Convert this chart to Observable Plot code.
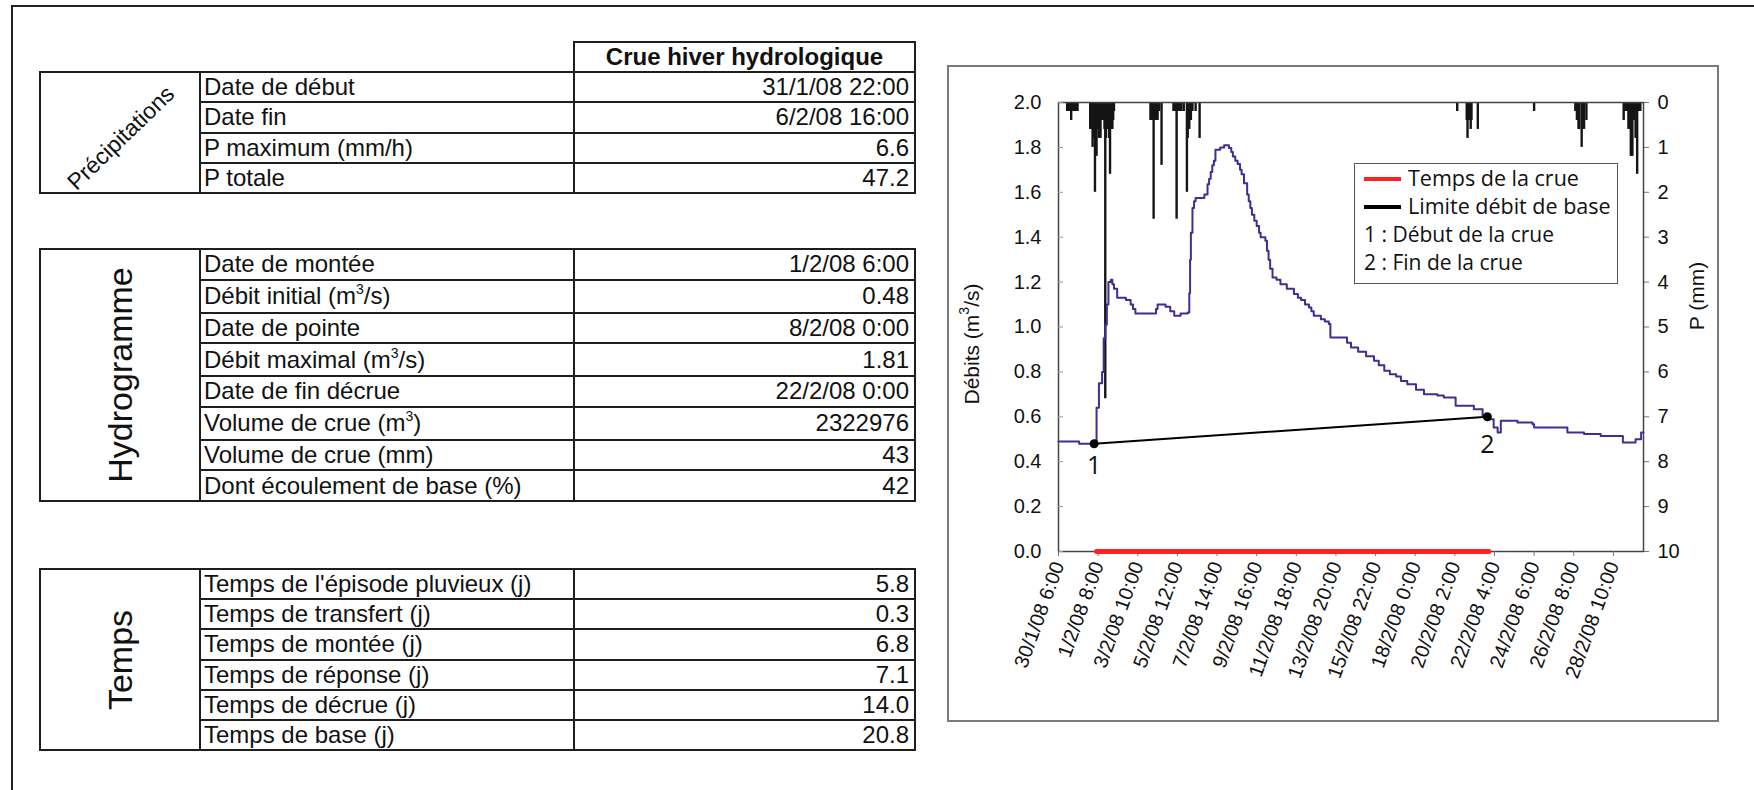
<!DOCTYPE html>
<html><head><meta charset="utf-8">
<script src="https://cdn.jsdelivr.net/npm/d3@7"></script>
<script src="https://cdn.jsdelivr.net/npm/@observablehq/plot@0.6"></script>
<style>
html,body{margin:0;padding:0;background:#fff;}
body{width:1754px;height:790px;position:relative;overflow:hidden;font-family:"Liberation Sans",Arial,sans-serif;color:#111;}
#frame{position:absolute;left:11px;top:5px;width:1760px;height:800px;border-left:2px solid #222;border-top:2px solid #222;}
table.t{position:absolute;left:39px;border-collapse:collapse;table-layout:fixed;width:875px;}
table.t td{border:2px solid #1e1e1e;padding:0;font-size:24px;line-height:24px;white-space:nowrap;overflow:visible;}
table.t td.lab{padding-left:3px;}
table.t td.val{text-align:right;padding-right:5px;}
table.t td.blank{border:none;}
table.t td.hdr{font-weight:bold;text-align:center;}
table.t td.grp{position:relative;}
table.t td.grp div{position:absolute;left:50%;top:50%;white-space:nowrap;line-height:1;}
sup{font-size:14px;line-height:0;vertical-align:10px;}
#chartbox{position:absolute;left:947px;top:65px;width:772px;height:657px;border:2px solid #7a7a7a;box-sizing:border-box;}
.plotlayer{position:absolute;left:948px;top:66px;}
#legend{position:absolute;left:1354px;top:163px;width:264px;height:121px;border:1.5px solid #555;box-sizing:border-box;font-family:"Open Sans",sans-serif;font-size:21.5px;color:#111;background:#fff;}
#legend .sw{position:absolute;left:9px;width:37px;height:4px;}
#legend .tx{position:absolute;line-height:26px;white-space:nowrap;}
.atitle{position:absolute;transform:translate(-50%,-50%) rotate(-90deg);white-space:nowrap;font-family:"Liberation Sans",Arial,sans-serif;font-size:21px;}
</style>
</head>
<body>
<div id="frame"></div>
<div id="chartbox"></div>
<script>
// ---------------- Table data ----------------
const columnHeader = "Crue hiver hydrologique";
const groupNames = ["Précipitations", "Hydrogramme", "Temps"];
const precipLabels = ["Date de début", "Date fin", "P maximum (mm/h)", "P totale"];
const precipValues = ["31/1/08 22:00", "6/2/08 16:00", "6.6", "47.2"];
const hydroLabels = ["Date de montée", "Débit initial (m<sup>3</sup>/s)", "Date de pointe", "Débit maximal (m<sup>3</sup>/s)", "Date de fin décrue", "Volume de crue (m<sup>3</sup>)", "Volume de crue (mm)", "Dont écoulement de base (%)"];
const hydroValues = ["1/2/08 6:00", "0.48", "8/2/08 0:00", "1.81", "22/2/08 0:00", "2322976", "43", "42"];
const tempsLabels = ["Temps de l'épisode pluvieux (j)", "Temps de transfert (j)", "Temps de montée (j)", "Temps de réponse (j)", "Temps de décrue (j)", "Temps de base (j)"];
const tempsValues = ["5.8", "0.3", "6.8", "7.1", "14.0", "20.8"];

// ---------------- Chart data ----------------
// Débit (m3/s), hourly-step hydrograph
const flowSeries = [
  ["2008-01-30T06:00",0.49],["2008-01-31T08:00",0.48],["2008-02-01T06:00",0.64],["2008-02-01T09:00",0.75],
  ["2008-02-01T13:00",0.80],["2008-02-01T15:00",0.95],["2008-02-01T17:00",1.01],["2008-02-01T19:00",1.10],
  ["2008-02-01T21:00",1.20],["2008-02-02T00:00",1.21],["2008-02-02T02:00",1.19],["2008-02-02T04:00",1.17],
  ["2008-02-02T08:00",1.13],["2008-02-02T19:00",1.12],["2008-02-03T01:00",1.10],["2008-02-03T04:00",1.08],
  ["2008-02-03T07:00",1.06],["2008-02-04T09:00",1.08],["2008-02-04T11:00",1.10],["2008-02-04T16:00",1.10],
  ["2008-02-04T21:00",1.09],["2008-02-05T03:00",1.07],["2008-02-05T08:00",1.05],["2008-02-05T16:00",1.06],
  ["2008-02-06T01:00",1.065],["2008-02-06T03:00",1.15],["2008-02-06T04:00",1.30],["2008-02-06T05:00",1.42],
  ["2008-02-06T07:00",1.53],["2008-02-06T09:00",1.56],["2008-02-06T11:00",1.575],["2008-02-06T22:00",1.59],
  ["2008-02-07T02:00",1.636],["2008-02-07T04:00",1.66],["2008-02-07T06:00",1.69],["2008-02-07T08:00",1.72],
  ["2008-02-07T10:00",1.74],["2008-02-07T12:00",1.79],["2008-02-07T18:00",1.80],["2008-02-07T23:00",1.81],
  ["2008-02-08T05:00",1.797],["2008-02-08T08:00",1.78],["2008-02-08T10:00",1.76],["2008-02-08T13:00",1.74],
  ["2008-02-08T16:00",1.726],["2008-02-08T19:00",1.70],["2008-02-08T21:00",1.68],["2008-02-09T00:00",1.64],
  ["2008-02-09T04:00",1.59],["2008-02-09T06:00",1.56],["2008-02-09T08:00",1.53],["2008-02-09T10:00",1.50],
  ["2008-02-09T13:00",1.473],["2008-02-09T16:00",1.45],["2008-02-09T19:00",1.42],["2008-02-09T21:00",1.40],
  ["2008-02-10T03:00",1.384],["2008-02-10T05:00",1.34],["2008-02-10T07:00",1.30],["2008-02-10T09:00",1.26],
  ["2008-02-10T12:00",1.22],["2008-02-10T17:00",1.21],["2008-02-10T22:00",1.19],["2008-02-11T06:00",1.17],
  ["2008-02-11T15:00",1.147],["2008-02-11T20:00",1.13],["2008-02-12T00:00",1.12],["2008-02-12T05:00",1.10],
  ["2008-02-12T10:00",1.087],["2008-02-12T13:00",1.07],["2008-02-12T16:00",1.05],["2008-02-13T01:00",1.035],
  ["2008-02-13T06:00",1.025],["2008-02-13T11:00",1.013],["2008-02-13T13:00",0.953],["2008-02-14T06:00",0.953],
  ["2008-02-14T10:00",0.93],["2008-02-14T15:00",0.909],["2008-02-15T00:00",0.89],["2008-02-15T10:00",0.87],
  ["2008-02-15T20:00",0.85],["2008-02-16T02:00",0.83],["2008-02-16T09:00",0.805],["2008-02-16T16:00",0.79],
  ["2008-02-17T00:00",0.78],["2008-02-17T06:00",0.76],["2008-02-17T14:00",0.745],["2008-02-18T01:00",0.72],
  ["2008-02-18T11:00",0.70],["2008-02-19T04:00",0.695],["2008-02-19T12:00",0.686],["2008-02-20T03:00",0.649],
  ["2008-02-21T02:00",0.634],["2008-02-21T13:00",0.605],["2008-02-21T21:00",0.589],["2008-02-22T03:00",0.552],
  ["2008-02-22T08:00",0.53],["2008-02-22T12:00",0.582],["2008-02-23T09:00",0.575],["2008-02-24T04:00",0.567],
  ["2008-02-24T06:00",0.552],["2008-02-26T00:00",0.53],["2008-02-26T21:00",0.523],["2008-02-27T18:00",0.515],
  ["2008-02-28T22:00",0.486],["2008-02-29T14:00",0.50],["2008-02-29T21:00",0.53],["2008-03-01T00:00",0.53]
];
// Pluie horaire (mm)
const rainSeries = [
  ["2008-01-30T17:00",0.2],["2008-01-30T18:00",0.2],["2008-01-30T19:00",0.2],["2008-01-30T20:00",0.2],
  ["2008-01-30T21:00",0.2],["2008-01-30T22:00",0.4],["2008-01-30T23:00",0.2],["2008-01-31T00:00",0.2],
  ["2008-01-31T01:00",0.2],["2008-01-31T02:00",0.2],["2008-01-31T03:00",0.2],["2008-01-31T04:00",0.2],
  ["2008-01-31T05:00",0.2],["2008-01-31T06:00",0.2],
  ["2008-01-31T22:00",0.6],["2008-01-31T23:00",0.6],["2008-02-01T00:00",0.6],["2008-02-01T01:00",1.0],
  ["2008-02-01T02:00",0.6],["2008-02-01T03:00",0.8],["2008-02-01T04:00",2.0],["2008-02-01T05:00",0.6],
  ["2008-02-01T06:00",1.2],["2008-02-01T07:00",0.6],["2008-02-01T08:00",0.6],["2008-02-01T09:00",0.8],
  ["2008-02-01T10:00",0.6],["2008-02-01T11:00",0.8],["2008-02-01T12:00",0.4],["2008-02-01T13:00",0.4],
  ["2008-02-01T14:00",0.2],["2008-02-01T15:00",0.4],["2008-02-01T16:00",0.6],["2008-02-01T17:00",6.6],
  ["2008-02-01T18:00",0.8],["2008-02-01T19:00",0.6],["2008-02-01T20:00",0.6],["2008-02-01T21:00",0.6],
  ["2008-02-01T22:00",0.8],["2008-02-01T23:00",1.6],["2008-02-02T00:00",0.6],["2008-02-02T01:00",0.6],
  ["2008-02-02T02:00",0.6],["2008-02-02T03:00",0.4],["2008-02-02T04:00",0.2],
  ["2008-02-04T02:00",0.4],["2008-02-04T04:00",0.4],["2008-02-04T06:00",2.6],["2008-02-04T07:00",0.4],
  ["2008-02-04T09:00",0.4],["2008-02-04T11:00",0.4],["2008-02-04T13:00",0.2],["2008-02-04T16:00",1.4],
  ["2008-02-05T07:00",0.2],["2008-02-05T09:00",0.2],["2008-02-05T11:00",2.6],["2008-02-05T13:00",0.2],
  ["2008-02-05T15:00",0.2],["2008-02-05T17:00",0.2],["2008-02-05T20:00",0.2],["2008-02-06T00:00",2.0],
  ["2008-02-06T01:00",0.8],["2008-02-06T03:00",0.6],["2008-02-06T05:00",0.4],["2008-02-06T07:00",0.2],
  ["2008-02-06T11:00",0.2],["2008-02-06T16:00",0.8],
  ["2008-02-20T05:00",0.2],["2008-02-20T17:00",0.4],["2008-02-20T18:00",0.8],["2008-02-20T19:00",0.4],
  ["2008-02-20T20:00",0.4],["2008-02-20T22:00",0.6],["2008-02-20T23:00",0.4],["2008-02-21T07:00",0.6],
  ["2008-02-24T06:00",0.2],
  ["2008-02-26T10:00",0.2],["2008-02-26T12:00",0.4],["2008-02-26T14:00",0.6],["2008-02-26T15:00",0.6],
  ["2008-02-26T18:00",1.0],["2008-02-26T19:00",0.6],["2008-02-26T21:00",0.6],["2008-02-27T00:00",0.4],
  ["2008-02-28T23:00",0.4],["2008-02-29T01:00",0.2],["2008-02-29T03:00",0.2],["2008-02-29T05:00",0.6],
  ["2008-02-29T06:00",0.6],["2008-02-29T08:00",1.2],["2008-02-29T10:00",1.2],["2008-02-29T12:00",0.4],
  ["2008-02-29T14:00",0.8],["2008-02-29T16:00",1.6],["2008-02-29T18:00",0.2],["2008-02-29T20:00",0.2]
];
const xDomain = ["2008-01-30T06:00", "2008-03-01T00:00"];
const xTickTimes = ["2008-01-30T06:00","2008-02-01T08:00","2008-02-03T10:00","2008-02-05T12:00","2008-02-07T14:00",
  "2008-02-09T16:00","2008-02-11T18:00","2008-02-13T20:00","2008-02-15T22:00","2008-02-18T00:00",
  "2008-02-20T02:00","2008-02-22T04:00","2008-02-24T06:00","2008-02-26T08:00","2008-02-28T10:00"];
const xTickLabels = ["30/1/08 6:00","1/2/08 8:00","3/2/08 10:00","5/2/08 12:00","7/2/08 14:00",
  "9/2/08 16:00","11/2/08 18:00","13/2/08 20:00","15/2/08 22:00","18/2/08 0:00",
  "20/2/08 2:00","22/2/08 4:00","24/2/08 6:00","26/2/08 8:00","28/2/08 10:00"];
const qTicks = [0, 0.2, 0.4, 0.6, 0.8, 1.0, 1.2, 1.4, 1.6, 1.8, 2.0];
const pTicks = [0, 1, 2, 3, 4, 5, 6, 7, 8, 9, 10];
const crueTimes = ["2008-02-01T06:00", "2008-02-21T21:00"];   // Temps de la crue
const basePointTimes = ["2008-02-01T03:00", "2008-02-21T19:00"]; // 1 : début, 2 : fin
const basePointQ = [0.48, 0.60];
const basePointLabels = ["1", "2"];
const legendItems = ["Temps de la crue", "Limite débit de base", "1 : Début de la crue", "2 : Fin de la crue"];
const yTitle = "Débits (m<sup>3</sup>/s)";
const y2Title = "P (mm)";

// ---------------- Tables ----------------
function makeTable(top, name, labels, values, heights, nameStyle, withHeader) {
  const t = document.createElement("table");
  t.className = "t";
  t.style.top = top + "px";
  let html = `<colgroup><col style="width:160px"><col style="width:374px"><col style="width:341px"></colgroup>`;
  if (withHeader) html += `<tr style="height:30px"><td class="blank"></td><td class="blank"></td><td class="hdr">${columnHeader}</td></tr>`;
  labels.forEach((lab, i) => {
    html += `<tr style="height:${heights[i]}px">`;
    if (i === 0) html += `<td class="grp" rowspan="${labels.length}"><div style="${nameStyle}">${name}</div></td>`;
    html += `<td class="lab">${lab}</td><td class="val">${values[i]}</td></tr>`;
  });
  t.innerHTML = html;
  document.body.appendChild(t);
}
makeTable(41, groupNames[0], precipLabels, precipValues, [30.3,30.3,30.3,30.3],
  "font-size:23px;transform:translate(-50%,-50%) translate(1px,5px) rotate(-44deg)", true);
makeTable(248, groupNames[1], hydroLabels, hydroValues, [30.6,33,30.6,33,30.6,33,30.6,30.6],
  "font-size:34px;transform:translate(-50%,-50%) rotate(-90deg)", false);
makeTable(568, groupNames[2], tempsLabels, tempsValues, [30.2,30.2,30.2,30.2,30.2,30.2],
  "font-size:34px;transform:translate(-50%,-50%) rotate(-90deg)", false);

// ---------------- Chart ----------------
const T = s => new Date(s + ":00Z");
const flow = flowSeries.map(([t, q]) => ({t: T(t), q}));
const rain = rainSeries.map(([t, mm]) => ({t: T(t), mm}));
const crue = crueTimes.map(t => ({t: T(t), q: 0}));
const basePts = basePointTimes.map((t, i) => ({t: T(t), q: basePointQ[i], label: basePointLabels[i]}));
const xTicks = xTickTimes.map(T);
const tickLabelOf = new Map(xTicks.map((d, i) => [+d, xTickLabels[i]]));

const W = 771, H = 656;
const M = {marginLeft: 110, marginTop: 36, marginRight: 76, marginBottom: 171};
const common = {
  width: W, height: H, ...M,
  x: {type: "utc", domain: xDomain.map(T)},
  style: {background: "transparent", fontFamily: "Liberation Sans, Arial, sans-serif", fontSize: "20px", overflow: "visible", color: "#111"}
};

const rainPlot = Plot.plot({
  ...common,
  x: {...common.x, axis: null},
  y: {domain: [0, 10], reverse: true},
  marks: [
    Plot.ruleX(rain, {x: "t", y1: 0, y2: "mm", stroke: "#151515", strokeWidth: 2.4}),
    Plot.axisY({anchor: "right", ticks: pTicks, tickSize: 5, tickPadding: 9, label: null, stroke: "#777", fontSize: 20})
  ]
});

const flowPlot = Plot.plot({
  ...common,
  y: {domain: [0, 2]},
  marks: [
    Plot.frame({stroke: "#444", strokeWidth: 1.5}),
    Plot.axisY({ticks: qTicks, tickFormat: d3.format(".1f"), tickSize: -5, tickPadding: 22, label: null, stroke: "#999", fontSize: 20}),
    Plot.axisX({ticks: xTicks, tickFormat: d => tickLabelOf.get(+d), tickRotate: -70, tickSize: 5, tickPadding: 6, label: null, stroke: "#777", fontSize: 20}),
    Plot.line(crue, {x: "t", y: "q", stroke: "#ff2020", strokeWidth: 5}),
    Plot.line(flow, {x: "t", y: "q", curve: "step-after", stroke: "#3a3190", strokeWidth: 2}),
    Plot.line(basePts, {x: "t", y: "q", stroke: "#000", strokeWidth: 2}),
    Plot.dot(basePts, {x: "t", y: "q", r: 4.5, fill: "#000"}),
    Plot.text(basePts.slice(0, 1), {x: "t", y: "q", text: "label", dy: 22, fontSize: 25, fontFamily: "Open Sans, sans-serif"}),
    Plot.text(basePts.slice(1), {x: "t", y: "q", text: "label", dy: 28, fontSize: 25, fontFamily: "Open Sans, sans-serif"})
  ]
});

for (const p of [rainPlot, flowPlot]) {
  const wrap = document.createElement("div");
  wrap.className = "plotlayer";
  wrap.appendChild(p);
  document.body.appendChild(wrap);
}

// Axis titles
function addTitle(html, cx, cy) {
  const d = document.createElement("div");
  d.className = "atitle";
  d.style.left = cx + "px"; d.style.top = cy + "px";
  d.innerHTML = html;
  document.body.appendChild(d);
}
addTitle(yTitle, 972, 344);
addTitle(y2Title, 1697, 296);

// Legend
const lg = document.createElement("div");
lg.id = "legend";
const swatchColors = ["#ff2020", "#000"];
const rowCenters = [15, 43, 71, 98.5];
let lh = "";
legendItems.forEach((txt, i) => {
  if (i < 2) {
    lh += `<div class="sw" style="top:${rowCenters[i] - 2}px;background:${swatchColors[i]}"></div>`;
    lh += `<div class="tx" style="left:53px;top:${rowCenters[i] - 14}px">${txt}</div>`;
  } else {
    lh += `<div class="tx" style="left:9px;top:${rowCenters[i] - 14}px;font-size:21px">${txt}</div>`;
  }
});
lg.innerHTML = lh;
document.body.appendChild(lg);
</script>
</body></html>
